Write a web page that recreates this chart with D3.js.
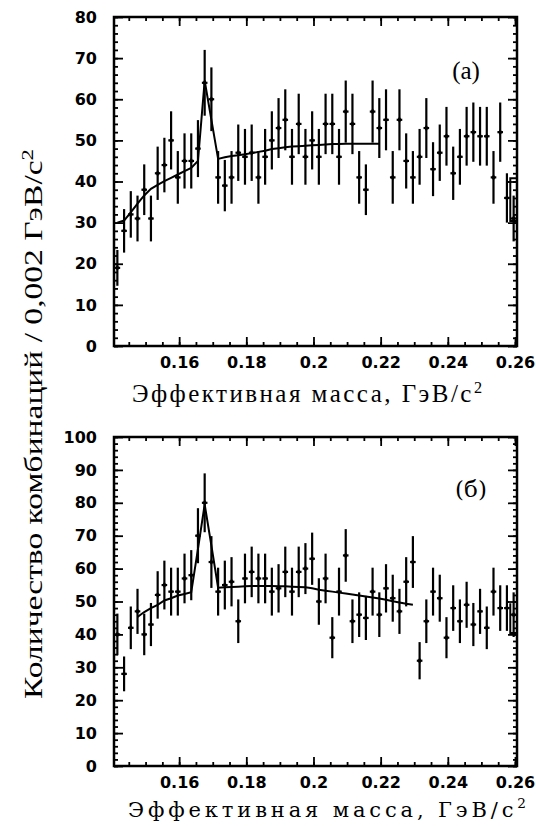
<!DOCTYPE html>
<html><head><meta charset="utf-8">
<script src="https://cdn.jsdelivr.net/npm/d3@7/dist/d3.min.js"></script>
<style>body{margin:0;background:#fff}</style>
</head><body>
<svg id="chart" width="536" height="826"></svg>
<script>
// Histogram bins: 2 MeV wide, first bin starts at 0.1406 GeV
const binStart = 0.1406;
const binWidth = 0.002;
const massDomain = [0.1406, 0.2606];
const massTicks = [0.16, 0.18, 0.20, 0.22, 0.24, 0.26];

// Panel (a): entries per bin
const countsA = [19,28,32,31,38,31,42,44,50,41,45,45,48,64,60,41,39,41,47,46,
                 47,41,46,50,53,55,46,54,46,50,46,54,54,46,57,54,41,38,57,53,
                 55,41,55,45,41,46,53,43,47,51,42,46,51,52,51,51,41,52,36,31];
// Panel (a): fitted curve at bin centres, starting from the first bin
const fitA = [30,30.5,32.5,34.6,36.6,38.2,39.2,40.1,40.9,41.7,42.5,43.3,45,64.5,55,
              45.5,45.9,46.2,46.4,46.6,46.9,47.2,47.5,47.9,48.1,48.3,48.5,48.6,48.7,48.8,
              48.9,49,49.1,49.1,49.2,49.2,49.2,49.2,49.2,49.2];
const fitAStartBin = 0;
// Panel (a): outline of the last bin
const tailA = [[0.2606, 40.8], [0.2586, 40.8], [0.2586, 30.4], [0.2606, 30.4]];
const yTicksA = [0, 10, 20, 30, 40, 50, 60, 70, 80];

// Panel (б): entries per bin
const countsB = [40,28,42,47,40,43,52,55,53,53,57,58,70,80,62,53,55,56,44,57,
                 59,57,57,53,54,59,53,59,60,63,50,57,39,53,64,44,46,45,53,46,
                 54,51,47,56,62,32,44,53,51,39,48,44,49,43,47,42,53,48,48,46];
// Panel (б): fitted curve at bin centres, starting from the fourth bin
const fitB = [45.3,46.8,48,49,50.3,51,51.8,52.3,52.8,66,79.5,67,54.2,54.3,54.4,54.5,
              54.6,54.7,54.7,54.7,54.7,54.6,54.6,54.5,54.4,54.3,54,53.6,53.3,53,52.7,
              52.4,52.1,51.8,51.5,51.2,50.9,50.5,50.1,49.7,49.3,49];
const fitBStartBin = 3;
// Panel (б): step at the last bin
const tailB = [[0.2586, 49.5], [0.2586, 40.4], [0.2606, 40.4]];
const yTicksB = [0, 10, 20, 30, 40, 50, 60, 70, 80, 90, 100];

const svg = d3.select("#chart");
const left = 114, right = 517;
const x = d3.scaleLinear().domain(massDomain).range([left, right]);
const binCentre = i => binStart + binWidth * (i + 0.5);
const fmtMass = d => String(+d.toFixed(2));

function drawPanel(cfg) {
  const y = d3.scaleLinear().domain([0, cfg.yMax]).range([cfg.bottom, cfg.top]);
  const g = svg.append("g");
  const minorX = d3.range(0.145, 0.2606, 0.005);
  const minorY = d3.range(0, cfg.yMax + 0.1, 2);

  const styleAxis = sel => {
    sel.select(".domain").remove();
    sel.selectAll("line").attr("stroke", "#000").attr("stroke-width", 1.8);
    sel.selectAll("text").attr("font-family", "DejaVu Sans").attr("font-weight", "bold")
      .attr("font-size", 16).attr("fill", "#000");
  };

  // minor ticks on all four sides
  g.append("g").attr("transform", `translate(0,${cfg.bottom})`)
    .call(d3.axisBottom(x).tickValues(minorX).tickSize(-4).tickFormat("")).call(styleAxis);
  g.append("g").attr("transform", `translate(0,${cfg.top})`)
    .call(d3.axisTop(x).tickValues(minorX).tickSize(-4).tickFormat("")).call(styleAxis);
  g.append("g").attr("transform", `translate(${left},0)`)
    .call(d3.axisLeft(y).tickValues(minorY).tickSize(-4).tickFormat("")).call(styleAxis);
  g.append("g").attr("transform", `translate(${right},0)`)
    .call(d3.axisRight(y).tickValues(minorY).tickSize(-4).tickFormat("")).call(styleAxis);

  // major ticks with labels
  g.append("g").attr("transform", `translate(0,${cfg.bottom})`)
    .call(d3.axisBottom(x).tickValues(massTicks).tickSize(-9).tickPadding(11).tickFormat(fmtMass))
    .call(styleAxis);
  g.append("g").attr("transform", `translate(0,${cfg.top})`)
    .call(d3.axisTop(x).tickValues(massTicks).tickSize(-9).tickFormat("")).call(styleAxis);
  g.append("g").attr("transform", `translate(${left},0)`)
    .call(d3.axisLeft(y).tickValues(cfg.yTicks).tickSize(-9).tickPadding(17).tickFormat(d3.format("d")))
    .call(styleAxis);
  g.append("g").attr("transform", `translate(${right},0)`)
    .call(d3.axisRight(y).tickValues(cfg.yTicks).tickSize(-9).tickFormat("")).call(styleAxis);

  // frame
  g.append("rect").attr("x", left).attr("y", cfg.top)
    .attr("width", right - left).attr("height", cfg.bottom - cfg.top)
    .attr("fill", "none").attr("stroke", "#000").attr("stroke-width", 2.5);

  // fitted curve
  const line = d3.line().x(d => x(d[0])).y(d => y(d[1]));
  g.append("path")
    .datum(cfg.fit.map((v, k) => [binCentre(k + cfg.fitStart), v]))
    .attr("d", line).attr("fill", "none").attr("stroke", "#000").attr("stroke-width", 2);
  g.append("path").datum(cfg.tail).attr("d", line)
    .attr("fill", "none").attr("stroke", "#000").attr("stroke-width", 2);

  // data points with Poisson error bars
  const pts = g.append("g").selectAll("g").data(cfg.counts).join("g")
    .attr("transform", (d, i) => `translate(${x(binCentre(i))},0)`);
  pts.append("line")
    .attr("y1", d => y(d + Math.sqrt(d))).attr("y2", d => y(Math.max(0, d - Math.sqrt(d))))
    .attr("stroke", "#000").attr("stroke-width", 2.2);
  pts.append("line").attr("x1", -2.8).attr("x2", 2.8)
    .attr("y1", d => y(d)).attr("y2", d => y(d))
    .attr("stroke", "#000").attr("stroke-width", 2.2);
  pts.append("path").attr("d", d3.symbol(d3.symbolDiamond, 14))
    .attr("transform", d => `translate(0,${y(d)})`).attr("fill", "#000");

  // panel label
  g.append("text").attr("x", cfg.labelX).attr("y", cfg.labelY)
    .attr("font-family", cfg.labelFont).attr("font-size", cfg.labelSize)
    .attr("text-anchor", "middle").text(cfg.label);

  // x-axis title
  const t = g.append("text").attr("x", cfg.titleX).attr("y", cfg.titleY)
    .attr("font-family", cfg.titleFont).attr("font-size", cfg.titleSize)
    .attr("textLength", cfg.titleLen).attr("lengthAdjust", "spacing");
  t.append("tspan").text("Эффективная масса, ГэВ/c");
  t.append("tspan").attr("font-size", cfg.titleSize * 0.65).attr("dy", -9).text("2");
}

drawPanel({top: 17, bottom: 346, yMax: 80, yTicks: yTicksA, counts: countsA,
  fit: fitA, fitStart: fitAStartBin, tail: tailA, label: "(a)", labelX: 466, labelY: 79,
  labelFont: "Liberation Serif", labelSize: 25,
  titleX: 132, titleY: 402, titleFont: "Liberation Serif", titleSize: 25, titleLen: 350});
drawPanel({top: 437, bottom: 766, yMax: 100, yTicks: yTicksB, counts: countsB,
  fit: fitB, fitStart: fitBStartBin, tail: tailB, label: "(б)", labelX: 471, labelY: 497,
  labelFont: "DejaVu Serif", labelSize: 23,
  titleX: 128, titleY: 817, titleFont: "DejaVu Serif", titleSize: 21, titleLen: 398});

// shared y-axis title
const yt = svg.append("text")
  .attr("transform", "translate(42,424) rotate(-90)")
  .attr("text-anchor", "middle")
  .attr("font-family", "Liberation Serif").attr("font-size", 25)
  .attr("textLength", 550).attr("lengthAdjust", "spacingAndGlyphs");
yt.append("tspan").text("Количество комбинаций / 0,002 ГэВ/c");
yt.append("tspan").attr("font-size", 17).attr("dy", -9).text("2");
</script>
</body></html>
